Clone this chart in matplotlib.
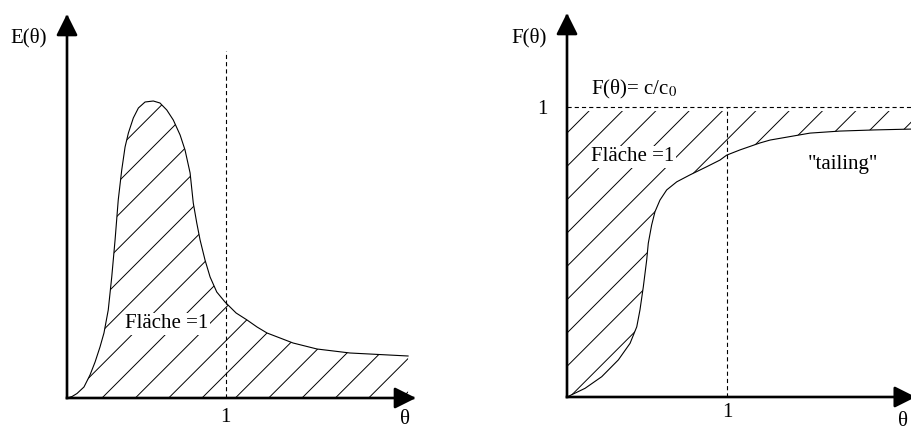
import matplotlib
matplotlib.use("Agg")
import matplotlib.pyplot as plt
import numpy as np

# --- data read off the two sketches ---
# residence time distribution E(theta)
theta_E = [0.000, 0.032, 0.063, 0.107, 0.145, 0.177, 0.208, 0.233, 0.260, 0.282,
           0.303, 0.323, 0.345, 0.366, 0.387, 0.418, 0.450, 0.492, 0.544, 0.586,
           0.629, 0.670, 0.713, 0.744, 0.776, 0.796, 0.818, 0.839, 0.870, 0.902,
           0.944, 0.996, 1.066, 1.135, 1.198, 1.261, 1.343, 1.425, 1.576, 1.784,
           2.150]
E_values = [0.00, 0.015, 0.045, 0.11, 0.23, 0.36, 0.51, 0.65, 0.88, 1.21,
            1.58, 1.98, 2.28, 2.51, 2.65, 2.80, 2.90, 2.96, 2.97, 2.95,
            2.88, 2.78, 2.63, 2.48, 2.25, 1.95, 1.75, 1.58, 1.38, 1.21,
            1.06, 0.96, 0.85, 0.78, 0.71, 0.65, 0.60, 0.55, 0.49, 0.45,
            0.42]

# cumulative distribution F(theta)
theta_F = [0.000, 0.113, 0.217, 0.321, 0.394, 0.436, 0.456, 0.477, 0.498, 0.508,
           0.529, 0.550, 0.581, 0.623, 0.686, 0.769, 0.873, 0.956, 0.998, 1.081,
           1.206, 1.269, 1.519, 1.706, 1.925, 2.163]
F_values = [0.000, 0.030, 0.070, 0.128, 0.185, 0.242, 0.300, 0.380, 0.472, 0.530,
            0.593, 0.639, 0.679, 0.714, 0.742, 0.766, 0.794, 0.817, 0.834, 0.852,
            0.876, 0.886, 0.910, 0.917, 0.921, 0.924]

F_max = 1.0
theta_mark = 1.0

plt.rcParams['font.family'] = ['Liberation Serif', 'DejaVu Serif']
plt.rcParams['mathtext.fontset'] = 'stix'
plt.rcParams['hatch.linewidth'] = 0.7
plt.rcParams['lines.scale_dashes'] = False

fig = plt.figure(figsize=(9.12, 4.3), dpi=100)
fig.patch.set_facecolor('white')

W, H = 912, 430
ax1 = fig.add_axes([67 / W, 32 / H, 349 / W, 384 / H])
ax2 = fig.add_axes([567 / W, 33 / H, 345 / W, 384 / H])
ax1.set_xlim(0, 2.2)
ax1.set_ylim(0, 3.84)
ax2.set_xlim(0, 345 / 160)
ax2.set_ylim(0, 384 / 290)
for ax in (ax1, ax2):
    ax.axis('off')

dash = (0, (3, 2.2))
fs = 15
arrow = dict(arrowstyle='-|>,head_length=1.3,head_width=0.65', mutation_scale=10,
             lw=1.9, color='black', shrinkA=0, shrinkB=0, capstyle='projecting')
white = dict(facecolor='white', edgecolor='none', pad=1)


def axis_arrows(ax, x_tip, y_tip):
    ax.annotate('', xy=(0, y_tip), xytext=(0, 0), arrowprops=arrow, annotation_clip=False)
    ax.annotate('', xy=(x_tip, 0), xytext=(0, 0), arrowprops=arrow, annotation_clip=False)


# --- 1. E(theta) ---
ax1.fill_between(theta_E, 0, E_values, facecolor='none', edgecolor='black',
                 hatch='/', linewidth=0)
ax1.plot(theta_E, E_values, color='black', lw=0.8)
ax1.plot([theta_mark, theta_mark], [0, 3.47], color='black', lw=0.8, ls=dash)
axis_arrows(ax1, 2.2, 3.84)
ax1.text(-0.24, 3.60, 'E(θ)', fontsize=fs, ha='center', va='center')
ax1.text(0.366, 0.74, 'Fläche =1', fontsize=fs, ha='left', va='center', bbox=white)
ax1.text(theta_mark, -0.20, '1', fontsize=fs, ha='center', va='center')
ax1.text(2.13, -0.12, 'θ', fontsize=fs, ha='center', va='top')

# --- 2. F(theta) ---
# hatching stops a little below the dashed F = 1 line, as in the sketch
ax2.fill_between(theta_F, F_values, 0.986 * F_max, facecolor='none', edgecolor='black',
                 hatch='/', linewidth=0)
ax2.plot(theta_F, F_values, color='black', lw=0.8)
ax2.plot([0, 2.3], [F_max, F_max], color='black', lw=0.8, ls=dash, clip_on=False)
ax2.plot([theta_mark, theta_mark], [0, F_max], color='black', lw=0.8, ls=dash)
axis_arrows(ax2, 2.18, 384 / 290)
ax2.text(-0.2375, 1.238, 'F(θ)', fontsize=fs, ha='center', va='center')
ax2.text(-0.156, 0.99, '1', fontsize=fs, ha='center', va='center')
ax2.text(0.15, 1.059, 'F(θ)= c/c$_0$', fontsize=fs, ha='left', va='center')
ax2.text(0.15, 0.828, 'Fläche =1', fontsize=fs, ha='left', va='center', bbox=white)
ax2.text(1.725, 0.80, '"tailing"', fontsize=fs, ha='center', va='center')
ax2.text(theta_mark, -0.055, '1', fontsize=fs, ha='center', va='center')
ax2.text(2.1, -0.052, 'θ', fontsize=fs, ha='center', va='top')

fig.savefig('out.png', dpi=100)
